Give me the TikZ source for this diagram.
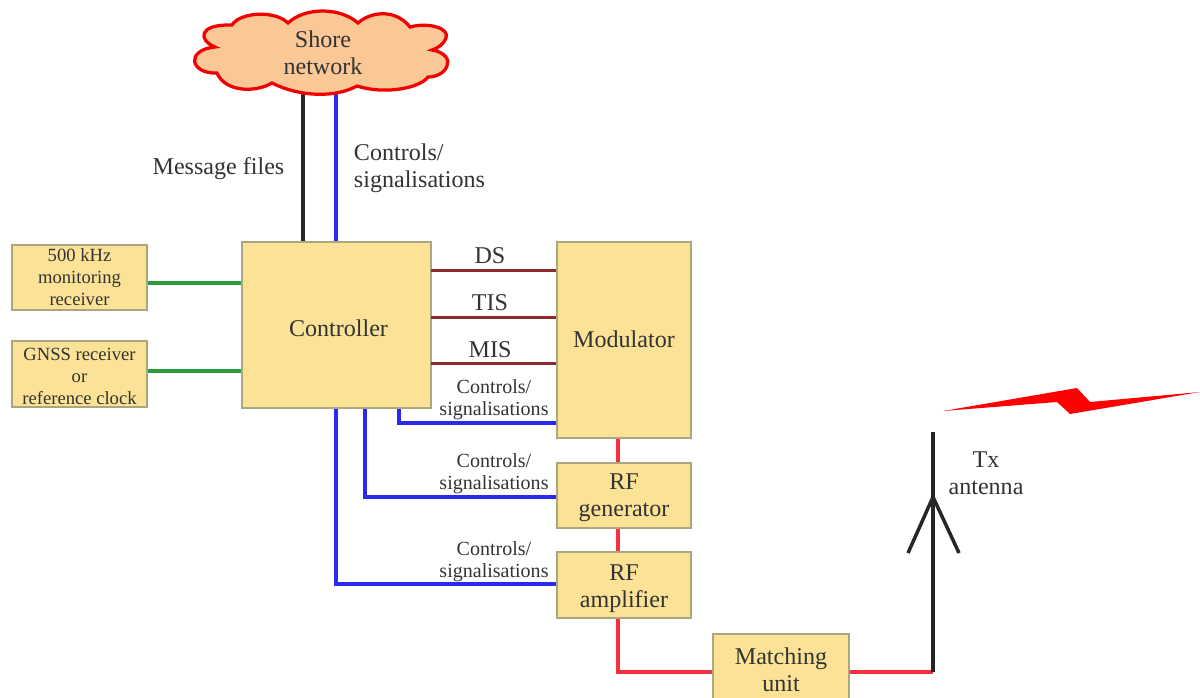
\documentclass[tikz,border=0pt]{standalone}
\usepackage{fontspec}
\setmainfont{Liberation Serif}
\definecolor{boxfill}{HTML}{FBE296}
\definecolor{boxline}{HTML}{ACA67E}
\definecolor{cloudfill}{HTML}{FAC796}
\definecolor{txtcol}{HTML}{333333}
\definecolor{wireblue}{HTML}{2A2AEE}
\definecolor{wiregreen}{HTML}{2E9B3A}
\definecolor{wiredark}{HTML}{8E2B2F}
\definecolor{wirered}{HTML}{F5303C}
\newcommand{\bigtxt}{\fontsize{13.7}{15.4}\selectfont}
\newcommand{\smalltxt}{\fontsize{11.4}{12.5}\selectfont}
\newcommand{\boxtxt}{\fontsize{10.6}{12.5}\selectfont}
\tikzset{
  unitbox/.style={draw=boxline,fill=boxfill,line width=0.05cm,inner sep=0pt,align=center,text=txtcol,font=\bigtxt},
  smallbox/.style={unitbox,font=\boxtxt},
  biglabel/.style={inner sep=0pt,align=center,text=txtcol,font=\bigtxt},
  smalllabel/.style={inner sep=0pt,align=center,text=txtcol,font=\smalltxt},
  bluewire/.style={draw=wireblue,line width=0.07cm},
  greenwire/.style={draw=wiregreen,line width=0.07cm},
  darkwire/.style={draw=wiredark,line width=0.06cm},
  redwire/.style={draw=wirered,line width=0.07cm},
  blackwire/.style={draw=black!85,line width=0.08cm}
}
\begin{document}
\begin{tikzpicture}[x=0.02cm,y=-0.02cm]
	\path[use as bounding box,clip] (0,0) rectangle (1200,697);
	%BOXES
	\node[smallbox,minimum width=2.7cm,minimum height=1.3cm] (monitor) at (79.5,277.5) {500 kHz\\monitoring\\receiver};
	\node[smallbox,text height=34.6pt,minimum width=2.7cm,minimum height=1.32cm] (gnss) at (79.5,374) {GNSS receiver\\or\\reference clock};
	\node[unitbox,text height=12.8pt,minimum width=3.78cm,minimum height=3.32cm] (ctrl) at (336.5,325) {\hspace{0.08cm}Controller};
	\node[unitbox,text depth=1.1pt,minimum width=2.68cm,minimum height=3.92cm] (mod) at (624,340) {Modulator};
	\node[unitbox,text height=27.3pt,minimum width=2.68cm,minimum height=1.3cm] (gen) at (624,495.5) {RF\\generator};
	\node[unitbox,text height=28.4pt,minimum width=2.68cm,minimum height=1.32cm] (amp) at (624,585) {RF\\amplifier};
	\node[unitbox,minimum width=2.72cm,minimum height=1.44cm] (match) at (781,670) {Matching\\unit};
	%HELP POINTS
	\coordinate (msg) at (303,90);
	\coordinate (sig) at (336,90);
	\coordinate (ds) at (431,270);
	\coordinate (tis) at (431,317);
	\coordinate (mis) at (431,363);
	\coordinate (cmod) at (399,423);
	\coordinate (cgen) at (365,497);
	\coordinate (camp) at (336,584);
	\coordinate (rf) at (618,672);
	\coordinate (ant) at (933,672);
	\coordinate (anttop) at (933,432);
	\coordinate (antmid) at (933,497);
	\coordinate (antleft) at (908,553);
	\coordinate (antright) at (959,553);
	%WIRES
	\draw[blackwire] (msg) -- (msg |- ctrl.north);
	\draw[bluewire] (sig) -- (sig |- ctrl.north);
	\draw[greenwire] (monitor.east |- 0,283) -- (ctrl.west |- 0,283);
	\draw[greenwire] (gnss.east |- 0,371) -- (ctrl.west |- 0,371);
	\draw[darkwire] (ds) -- (ds -| mod.west);
	\draw[darkwire] (tis) -- (tis -| mod.west);
	\draw[darkwire] (mis) -- (mis -| mod.west);
	\draw[bluewire] (cmod |- ctrl.south) -- (cmod) -- (cmod -| mod.west);
	\draw[bluewire] (cgen |- ctrl.south) -- (cgen) -- (cgen -| gen.west);
	\draw[bluewire] (camp |- ctrl.south) -- (camp) -- (camp -| amp.west);
	\draw[redwire] (rf |- mod.south) -- (rf |- gen.north);
	\draw[redwire] (rf |- gen.south) -- (rf |- amp.north);
	\draw[redwire] (rf |- amp.south) -- (rf) -- (rf -| match.west);
	\draw[redwire] (match.east |- ant) -- (ant);
	\draw[blackwire] (ant) -- (anttop);
	\draw[blackwire,line width=0.07cm] (antleft) -- (antmid) -- (antright);
	%CLOUD
	\draw[draw=red!95!black,fill=cloudfill,line width=0.065cm]
		(288,23) .. controls (305,7) and (340,7) .. (358,23)
		.. controls (370,12) and (395,8) .. (410,27)
		.. controls (428,22) and (450,28) .. (446,38)
		.. controls (444,44) and (438,48) .. (432,50)
		.. controls (445,52) and (450,60) .. (447,66)
		.. controls (444,74) and (435,77) .. (428,77)
		.. controls (420,88) and (385,95) .. (357,86)
		.. controls (335,98) and (300,97) .. (272,83)
		.. controls (255,93) and (225,92) .. (217,73)
		.. controls (190,74) and (185,50) .. (215,47)
		.. controls (198,40) and (198,24) .. (232,25)
		.. controls (240,12) and (275,10) .. (288,23) -- cycle;
	\node[biglabel] (shore) at (323,53) {Shore\\network};
	%LIGHTNING
	\fill[red] (943,411) -- (1077,388) -- (1090,402) -- (1200,392) -- (1070,414) -- (1057,402) -- cycle;
	%LABELS
	\node[biglabel] (msglabel) at (218.5,169) {Message files};
	\node[biglabel,align=left] (siglabel) at (419.5,168.5) {Controls/\\signalisations};
	\node[biglabel] (dslabel) at (490,256) {DS};
	\node[biglabel] (tislabel) at (490,303) {TIS};
	\node[biglabel] (mislabel) at (490,350) {MIS};
	\node[smalllabel] (modlabel) at (494,399.5) {Controls/\\signalisations};
	\node[smalllabel] (genlabel) at (494,473.5) {Controls/\\signalisations};
	\node[smalllabel] (amplabel) at (494,561.5) {Controls/\\signalisations};
	\node[biglabel] (antlabel) at (986,473) {Tx\\antenna};
\end{tikzpicture}
\end{document}
